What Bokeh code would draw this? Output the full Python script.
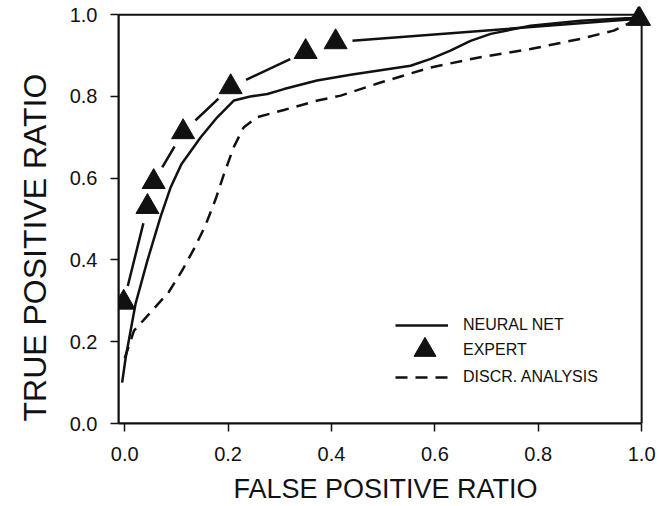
from bokeh.plotting import figure
from bokeh.models import (Range1d, FixedTicker, NumeralTickFormatter, Legend, LegendItem,
                          BoxAnnotation, Title)
from bokeh.embed import file_html
from bokeh.resources import INLINE

# ---- data ----
tick_values = [0.0, 0.2, 0.4, 0.6, 0.8, 1.0]

nn_fpr = [-0.005, 0.002, 0.021, 0.044, 0.069, 0.089, 0.11, 0.147, 0.179, 0.211, 0.243,
          0.276, 0.308, 0.372, 0.437, 0.553, 0.592, 0.63, 0.669, 0.708, 0.785, 0.882, 0.979, 1.0]
nn_tpr = [0.10, 0.162, 0.293, 0.399, 0.504, 0.578, 0.635, 0.70, 0.749, 0.79, 0.80,
          0.806, 0.818, 0.839, 0.853, 0.875, 0.892, 0.912, 0.936, 0.953, 0.973, 0.985, 0.992, 0.995]

da_fpr = [0.0, 0.018, 0.05, 0.085, 0.111, 0.134, 0.156, 0.176, 0.192, 0.211, 0.23, 0.256,
          0.308, 0.373, 0.418, 0.495, 0.592, 0.688, 0.785, 0.882, 0.946, 0.979, 1.0]
da_tpr = [0.16, 0.227, 0.272, 0.321, 0.374, 0.427, 0.484, 0.549, 0.61, 0.676, 0.724, 0.749,
          0.767, 0.79, 0.802, 0.834, 0.871, 0.896, 0.916, 0.941, 0.961, 0.981, 0.993]

ex_fpr = [-0.002, 0.044, 0.056, 0.113, 0.205, 0.35, 0.408, 0.995]
ex_tpr = [0.296, 0.53, 0.591, 0.713, 0.823, 0.909, 0.933, 0.99]

x_title = "FALSE POSITIVE RATIO"
y_title = "TRUE POSITIVE RATIO"

# axis box (the drawn frame) and a little extra room so corner markers are not clipped
X_LO, X_HI = -0.012, 1.0
Y_LO, Y_HI = 0.0, 1.0
X_PAD, Y_PAD = 0.021, 0.02

FONT = "Liberation Sans"
INK = "#111111"

p = figure(width=659, height=506, output_backend="svg", toolbar_location=None,
           x_range=Range1d(X_LO, X_HI + X_PAD), y_range=Range1d(Y_LO, Y_HI + Y_PAD),
           min_border_left=118, min_border_right=7, min_border_top=6, min_border_bottom=83,
           x_axis_label=x_title)
p.grid.visible = False
p.outline_line_color = None
p.background_fill_color = "white"
p.border_fill_color = "white"

for ax in (p.xaxis[0], p.yaxis[0]):
    ax.ticker = FixedTicker(ticks=tick_values)
    ax.formatter = NumeralTickFormatter(format="0.0")
    ax.axis_line_color = INK
    ax.axis_line_width = 2
    ax.major_tick_line_color = INK
    ax.major_tick_line_width = 1.5
    ax.major_tick_out = 8
    ax.major_tick_in = 0
    ax.minor_tick_line_color = None
    ax.major_label_text_font = FONT
    ax.major_label_text_font_size = "20px"
    ax.major_label_text_color = INK
    ax.axis_label_text_font = FONT
    ax.axis_label_text_font_style = "normal"
    ax.axis_label_text_color = INK

p.xaxis.bounds = (X_LO, X_HI)
p.yaxis.bounds = (Y_LO, Y_HI)
p.xaxis.major_label_standoff = 15
p.yaxis.major_label_standoff = 13
p.xaxis.axis_label_text_font_size = "27px"
p.xaxis.axis_label_standoff = 10

# y-axis title, starting at the bottom of the frame as in the original figure
p.add_layout(Title(text=y_title, align="left", offset=2, standoff=27,
                   text_font=FONT, text_font_size="32px", text_font_style="normal",
                   text_color=INK), "left")

p.add_layout(BoxAnnotation(left=X_LO, right=X_HI, bottom=Y_LO, top=Y_HI,
                           fill_alpha=0, line_color=INK, line_width=2, line_alpha=1))

# expert connecting line, with gaps around the markers
p.line(ex_fpr, ex_tpr, line_width=2.5, line_color=INK)
p.scatter(ex_fpr[:-1], ex_tpr[:-1], marker="circle", size=34, fill_color="white", line_color=None)

nn = p.line(nn_fpr, nn_tpr, line_width=2.5, line_color=INK)
da = p.line(da_fpr, da_tpr, line_width=2.5, line_color=INK, line_dash="12 8")
ex = p.scatter(ex_fpr, ex_tpr, marker="triangle", size=23, fill_color=INK, line_color=INK)

common = dict(padding=0, margin=0, border_line_color=None, background_fill_alpha=0,
              label_text_font=FONT, label_text_font_size="16px", label_text_color=INK)
p.add_layout(Legend(items=[LegendItem(label="NEURAL NET", renderers=[nn])],
                    location=(277, 86), glyph_width=53, glyph_height=24, label_height=24,
                    label_standoff=15, **common))
p.add_layout(Legend(items=[LegendItem(label="EXPERT", renderers=[ex])],
                    location=(279, 46), glyph_width=55, glyph_height=55, label_height=24,
                    label_standoff=11, **common))
p.add_layout(Legend(items=[LegendItem(label="DISCR. ANALYSIS", renderers=[da])],
                    location=(277, 34), glyph_width=53, glyph_height=24, label_height=24,
                    label_standoff=15, **common))

open("out.html", "w").write(file_html(p, INLINE))
